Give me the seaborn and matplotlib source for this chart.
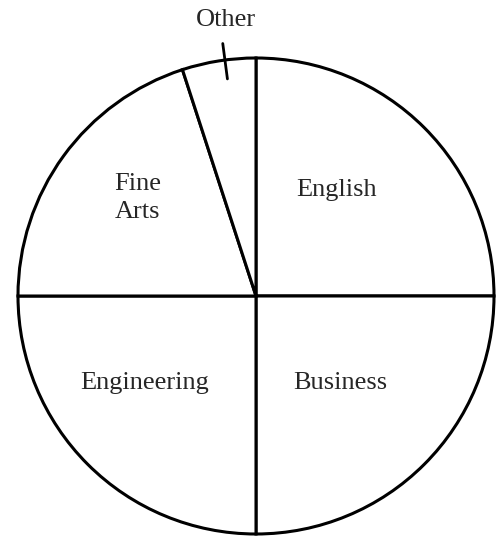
import numpy as np
import matplotlib
matplotlib.use("Agg")
import matplotlib.pyplot as plt
import seaborn as sns

# slice data (percent), clockwise from the top
majors = ['English', 'Business', 'Engineering', 'Fine\nArts', 'Other']
shares = [25, 25, 25, 20, 5]

# where each label sits (in units of the radius)
label_pos = [(0.34, 0.445), (0.353, -0.366), (-0.466, -0.366), (-0.496, 0.41), (-0.126, 1.16)]

sns.set_style('white')
plt.rcParams['font.family'] = ['Liberation Serif', 'DejaVu Serif']

fig = plt.figure(figsize=(5.02, 5.43), dpi=100)
# circle centre ~ (256, 296) px from top, radius ~238 px
R = 238
ax = fig.add_axes([(256 - R) / 502, (543 - 296 - R) / 543, 2 * R / 502, 2 * R / 543])

wedges, texts = ax.pie(
    shares,
    labels=majors,
    startangle=90,
    counterclock=False,
    colors=['white'] * len(shares),
    wedgeprops=dict(edgecolor='black', linewidth=2.2),
    textprops=dict(fontsize=19, ha='center', va='center', linespacing=1.35),
)
ax.set_xlim(-1, 1)
ax.set_ylim(-1, 1)
ax.set_aspect('equal')
ax.axis('off')

for t, p in zip(texts, label_pos):
    t.set_position(p)
    t.set_ha('center')
    t.set_va('center')
    t.set_clip_on(False)

# small tick across the rim pointing to 'Other'
w = wedges[-1]
ang = np.deg2rad((w.theta1 + w.theta2) / 2 - 1.5)
ax.plot([0.92 * np.cos(ang), 1.07 * np.cos(ang)],
        [0.92 * np.sin(ang), 1.07 * np.sin(ang)],
        color='black', lw=2, clip_on=False)

fig.savefig('out.png', dpi=100)
